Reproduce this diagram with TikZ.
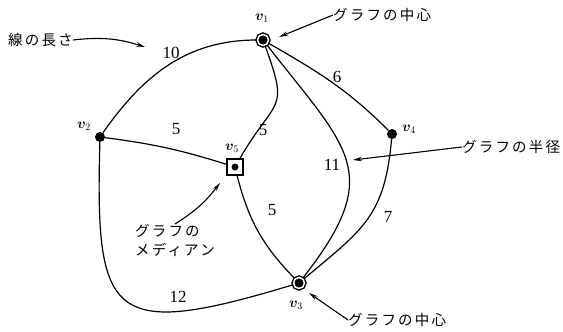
\documentclass[tikz,border=0pt]{standalone}
\usepackage{amsmath,bm}
\usepackage{fontspec}
\newfontfamily\jp{Noto Sans CJK JP}[LetterSpace=15]
\newfontfamily\numfont{Liberation Serif}
\usetikzlibrary{arrows.meta}

\begin{document}
\begin{tikzpicture}[
    x=1pt, y=1pt,
    inner sep=0pt,
    edge/.style={line width=1.2pt},
    pointer/.style={line width=1.1pt, -{Stealth[length=9pt,width=4.5pt]}},
    dot/.style={circle, fill, minimum size=10pt},
    hub/.style={circle, fill, draw, line width=1.4pt, double=white,
      double distance=1.5pt, minimum size=11pt},
    median/.style={draw, line width=1.1pt, minimum size=16pt,
      path picture={\fill (path picture bounding box.center) circle (3.5pt);}},
    weight/.style={font=\numfont\fontsize{17}{17}\selectfont},
    vlabel/.style={font=\fontsize{14}{14}\selectfont},
    note/.style={font=\jp\fontsize{14.5}{19}\selectfont}
  ]
  \useasboundingbox (0,0) rectangle (563,-332);

  % vertices
  \node (v1) [hub] at (263,-40) {};
  \node (v2) [dot] at (100,-137) {};
  \node (v3) [hub] at (299,-283) {};
  \node (v4) [dot] at (392,-134) {};
  \node (v5) [median] at (235,-167) {};

  \node (l1) [vlabel] at (262,-18) {$\bm{v}_1$};
  \node (l2) [vlabel] at (84,-126) {$\bm{v}_2$};
  \node (l3) [vlabel] at (296,-305) {$\bm{v}_3$};
  \node (l4) [vlabel] at (409,-129) {$\bm{v}_4$};
  \node (l5) [vlabel] at (232,-148) {$\bm{v}_5$};

  % edges
  \draw [edge] (v2) to[out=55,in=180] (v1);
  \draw [edge] (v1) to[out=-70,in=60,looseness=1.6] (v5);
  \draw [edge] (v2) to[bend left=5] (v5);
  \draw [edge] (v2) .. controls (95,-320) and (110,-340) .. (v3);
  \draw [edge] (v5) to[bend right=15] (v3);
  \draw [edge] (v1) to[out=-52,in=52,looseness=1.45] (v3);
  \draw [edge] (v1) to[out=-30,in=135] (v4);
  \draw [edge] (v4) to[out=-95,in=40,looseness=1.2] (v3);

  \node (w12) [weight] at (171,-53) {10};
  \node (w15) [weight] at (263,-130) {5};
  \node (w25) [weight] at (176,-129) {5};
  \node (w23) [weight] at (178,-297) {12};
  \node (w53) [weight] at (272,-210) {5};
  \node (w13) [weight] at (332,-165) {11};
  \node (w14) [weight] at (337,-77) {6};
  \node (w43) [weight] at (388,-217) {7};

  % notes
  \node (lenNote) [note, anchor=west] at (8,-40) {線の長さ};
  \node (topNote) [note, anchor=west] at (333,-15) {グラフの中心};
  \node (radNote) [note, anchor=west] at (462,-147) {グラフの半径};
  \node (medNote) [note, anchor=north west, align=left] at (135,-224) {グラフの\\メディアン};
  \node (botNote) [note, anchor=west] at (348,-320) {グラフの中心};

  \coordinate (lenTip) at (145,-47);
  \coordinate (topTip) at (279,-37);
  \coordinate (radTip) at (353,-160);
  \coordinate (medTip) at (220,-183);
  \coordinate (botTip) at (309,-293);

  \draw [pointer] (lenNote.east) to[bend left=12] (lenTip);
  \draw [pointer] (topNote.west) -- (topTip);
  \draw [pointer] (radNote.west) -- (radTip);
  \draw [pointer] (medNote.north) to[bend right=10] (medTip);
  \draw [pointer] (botNote.west) -- (botTip);
\end{tikzpicture}
\end{document}
